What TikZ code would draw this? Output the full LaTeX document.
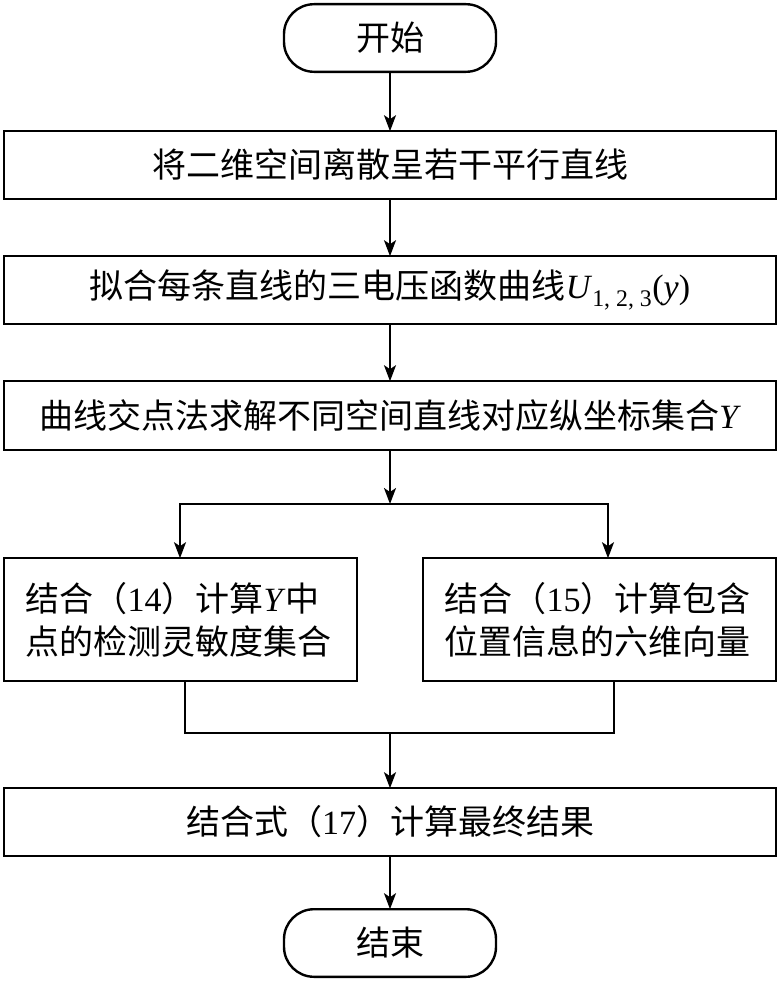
\documentclass[tikz,border=0pt]{standalone}
\usepackage{fontspec}
\setmainfont{Liberation Serif}
\newfontfamily\cjk{Noto Sans CJK SC}
\usetikzlibrary{arrows.meta}
\begin{document}
\begin{tikzpicture}[x=1pt,y=-1pt,
  box/.style={draw, line width=2.4pt, minimum width=771.6pt, minimum height=67.6pt,
    inner sep=0pt, outer sep=0pt, font=\fontsize{34}{43}\selectfont},
  term/.style={box, rounded corners=30pt, minimum width=212pt},
  side/.style={box, minimum width=352.6pt, minimum height=122.6pt, text width=310pt, align=left},
  arr/.style={line width=2pt, -{Stealth[length=16pt,width=12pt,inset=4pt]}},
  ln/.style={line width=2pt, line cap=rect}]
\useasboundingbox (0,0) rectangle (780,982);

\node[term] (start) at (390,38) {\cjk 开始};
\node[box] (b1) at (390,165) {\cjk 将二维空间离散呈若干平行直线};
\node[box] (b2) at (390,290) {{\cjk 拟合每条直线的三电压函数曲线}\textit{U}\textsubscript{1, 2, 3}(\textit{y})};
\node[box, minimum height=68.6pt] (b3) at (390,415.5) {{\cjk 曲线交点法求解不同空间直线对应纵坐标集合}\textit{Y}};
\node[side] (L) at (180.5,619.5) {{\cjk 结合（}14{\cjk ）计算}\textit{Y}{\cjk 中}\\{\cjk 点的检测灵敏度集合}};
\node[side] (R) at (599.5,619.5) {{\cjk 结合（}15{\cjk ）计算包含}\\{\cjk 位置信息的六维向量}};
\node[box] (b4) at (390,822) {{\cjk 结合式（}17{\cjk ）计算最终结果}};
\node[term] (end) at (390,943) {\cjk 结束};

\coordinate (sp) at (390,504);
\coordinate (spL) at (180,504);
\coordinate (spR) at (608,504);
\coordinate (mg) at (390,733);
\coordinate (mgL) at (185,733);
\coordinate (mgR) at (614,733);

\draw[arr] (start) -- (b1);
\draw[arr] (b1) -- (b2);
\draw[arr] (b2) -- (b3);
\draw[arr] (b3.south) -- (sp);
\draw[ln] (spL) -- (spR);
\draw[arr] (spL) -- (spL |- L.north);
\draw[arr] (spR) -- (spR |- R.north);
\draw[ln] (mgL |- L.south) -- (mgL) -- (mgR) -- (mgR |- R.south);
\draw[arr] (mg) -- (b4.north);
\draw[arr] (b4) -- (end);
\end{tikzpicture}
\end{document}
